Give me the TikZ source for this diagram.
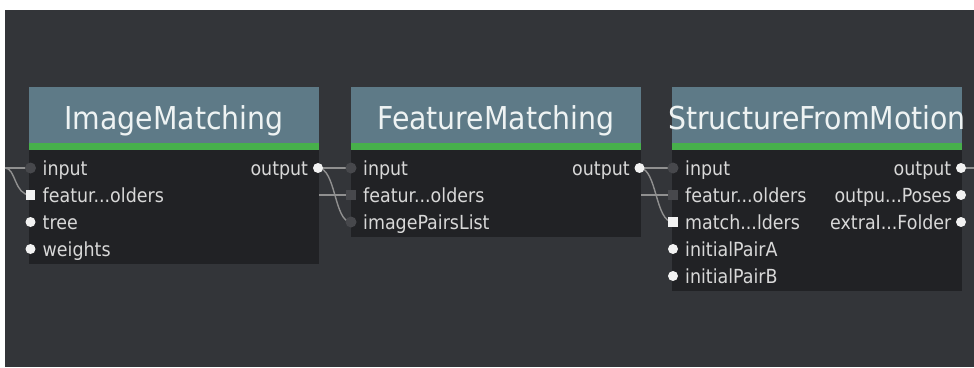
\documentclass[tikz,border=0pt]{standalone}
\usepackage{fontspec}
\setmainfont{DejaVu Sans Condensed}
\definecolor{bgc}{HTML}{333539}
\definecolor{bodyc}{HTML}{212225}
\definecolor{headc}{HTML}{5E7A87}
\definecolor{greenc}{HTML}{47B04B}
\definecolor{titlec}{HTML}{EEF3F3}
\definecolor{lblc}{HTML}{D8D8D8}
\definecolor{portw}{HTML}{F2F2F2}
\definecolor{portd}{HTML}{47484C}
\definecolor{wirec}{HTML}{909090}
\pgfdeclarelayer{bg}
\pgfsetlayers{bg,main}
\begin{document}
\begin{tikzpicture}[x=1pt,y=-1pt,
  header/.style={rectangle, fill=headc, minimum width=290pt, minimum height=56pt, anchor=north west, inner sep=0},
  gbar/.style={rectangle, fill=greenc, minimum width=290pt, minimum height=7pt, anchor=north west, inner sep=0},
  body/.style={rectangle, fill=bodyc, minimum width=290pt, anchor=north west, inner sep=0},
  title/.style={anchor=base, text=titlec, font=\fontsize{31.5}{36}\selectfont, inner sep=0},
  lbl/.style={anchor=base west, text=lblc, font=\fontsize{19.4}{22}\selectfont, inner sep=0},
  rlbl/.style={anchor=base east, text=lblc, font=\fontsize{19.4}{22}\selectfont, inner sep=0},
  wport/.style={circle, fill=portw, minimum size=10pt, inner sep=0},
  dport/.style={circle, fill=portd, minimum size=11pt, inner sep=0},
  wsq/.style={rectangle, fill=portw, minimum size=9.5pt, inner sep=0},
  dsq/.style={rectangle, fill=portd, minimum size=10pt, inner sep=0},
  wire/.style={draw=wirec, line width=1.4pt},
]
\useasboundingbox (0,0) rectangle (974,367);

% ---------- ImageMatching ----------
\node[body, minimum height=114pt] (imb) at (29,150) {};
\node[header] (imh) at (29,87) {};
\node[gbar] (img) at (29,143) {};
\node[title] (imt) at (174,129.5) {ImageMatching};
\node[dport] (im-in) at (30.5,168) {};
\node[wsq] (im-feat) at (30.5,195) {};
\node[wport] (im-tree) at (30.5,222) {};
\node[wport] (im-w) at (30.5,249) {};
\node[wport] (im-out) at (318,168) {};
\node[lbl] (im-l1) at (42.5,175.6) {input};
\node[lbl] (im-l2) at (42.5,202.6) {featur...olders};
\node[lbl] (im-l3) at (42.5,229.6) {tree};
\node[lbl] (im-l4) at (42.5,256.6) {weights};
\node[rlbl] (im-r1) at (308.3,175.6) {output};

% ---------- FeatureMatching ----------
\node[body, minimum height=87pt] (fmb) at (351,150) {};
\node[header] (fmh) at (351,87) {};
\node[gbar] (fmg) at (351,143) {};
\node[title] (fmt) at (496,129.5) {FeatureMatching};
\node[dport] (fm-in) at (351,168) {};
\node[dsq] (fm-feat) at (351,195) {};
\node[dport] (fm-pairs) at (351,222) {};
\node[wport] (fm-out) at (639.5,168) {};
\node[lbl] (fm-l1) at (363,175.6) {input};
\node[lbl] (fm-l2) at (363,202.6) {featur...olders};
\node[lbl] (fm-l3) at (363,229.6) {imagePairsList};
\node[rlbl] (fm-r1) at (630,175.6) {output};

% ---------- StructureFromMotion ----------
\node[body, minimum height=141pt] (sfb) at (672,150) {};
\node[header] (sfh) at (672,87) {};
\node[gbar] (sfg) at (672,143) {};
\node[title] (sft) at (817,129.5) {StructureFromMotion};
\node[dport] (sf-in) at (673,168) {};
\node[dsq] (sf-feat) at (673,195) {};
\node[wsq] (sf-match) at (673,222) {};
\node[wport] (sf-pa) at (673,249) {};
\node[wport] (sf-pb) at (673,276) {};
\node[wport] (sf-out) at (961,168) {};
\node[wport] (sf-poses) at (961,195) {};
\node[wport] (sf-extra) at (961,222) {};
\node[lbl] (sf-l1) at (685,175.6) {input};
\node[lbl] (sf-l2) at (685,202.6) {featur...olders};
\node[lbl] (sf-l3) at (685,229.6) {match...lders};
\node[lbl] (sf-l4) at (685,256.6) {initialPairA};
\node[lbl] (sf-l5) at (685,283.6) {initialPairB};
\node[rlbl] (sf-r1) at (951.5,175.6) {output};
\node[rlbl] (sf-r2) at (951.5,202.6) {outpu...Poses};
\node[rlbl] (sf-r3) at (951.5,229.6) {extraI...Folder};

% free ends
\coordinate (src) at (5,168);
\coordinate (sink) at (974,168);
\coordinate (imfeatR) at (319,195);
\coordinate (fmfeatR) at (641,195);

\begin{pgfonlayer}{bg}
  \fill[white] (0,0) rectangle (974,367);
  \fill[bgc] (5,10) rectangle (974,367);
  \draw[wire] (src) -- (im-in.center);
  \draw[wire] (src) .. controls (16,168) and (14,195) .. (im-feat.center);
  \draw[wire] (im-out.center) -- (fm-in.center);
  \draw[wire] (im-out.center) .. controls (336,168) and (334,222) .. (fm-pairs.center);
  \draw[wire] (imfeatR) -- (fm-feat.center);
  \draw[wire] (fm-out.center) -- (sf-in.center);
  \draw[wire] (fm-out.center) .. controls (657,168) and (655,222) .. (sf-match.center);
  \draw[wire] (fmfeatR) -- (sf-feat.center);
  \draw[wire] (sf-out.center) -- (sink);
\end{pgfonlayer}
\end{tikzpicture}
\end{document}
